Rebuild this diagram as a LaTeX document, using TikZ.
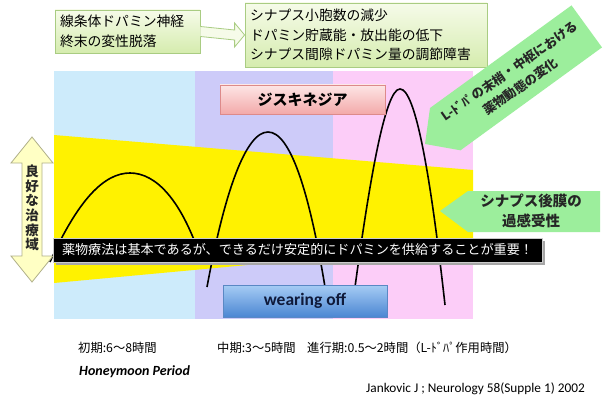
\documentclass[tikz,border=0pt]{standalone}
\usepackage{fontspec}
\setmainfont{Carlito}
\newfontfamily\jp{Noto Sans CJK JP}
\usetikzlibrary{calc}
\definecolor{pblue}{HTML}{CDEBFB}
\definecolor{ppurple}{HTML}{CDCBF9}
\definecolor{ppink}{HTML}{FCCDF8}
\definecolor{gtop}{HTML}{F6FBE9}
\definecolor{gbot}{HTML}{D5ECAE}
\definecolor{gline}{HTML}{A9CC82}
\definecolor{callg}{HTML}{9CEE9C}
\definecolor{pktop}{HTML}{FDE6E6}
\definecolor{pkbot}{HTML}{F3A9A9}
\definecolor{pkline}{HTML}{DD8A8A}
\definecolor{bltop}{HTML}{A6CCF4}
\definecolor{blbot}{HTML}{4B86D3}
\definecolor{blline}{HTML}{5A88C4}
\definecolor{ytxt}{HTML}{FFFFC4}
\definecolor{yline}{HTML}{B0B08A}
\definecolor{navy}{HTML}{0F1A3A}
\tikzset{
  greenbox/.style={draw=gline, line width=0.8pt, top color=gtop, bottom color=gbot, inner sep=0pt, align=left, font=\jp\fontsize{13.8}{19.5}\selectfont},
  pinkbox/.style={draw=pkline, line width=0.8pt, top color=pktop, bottom color=pkbot, inner sep=0pt, font=\jp\bfseries\fontsize{15}{18}\selectfont},
  bluebox/.style={draw=blline, line width=0.8pt, top color=bltop, bottom color=blbot, inner sep=0pt, font=\bfseries\fontsize{17.5}{20}\selectfont, text=navy},
  bell/.style={line width=1.6pt, black},
  calltxt/.style={font=\jp\bfseries\fontsize{13.5}{17}\selectfont, text=black!85, align=center, inner sep=0pt},
  bottxt/.style={font=\jp\fontsize{12.3}{14}\selectfont, anchor=west, inner sep=0pt},
}
\begin{document}
\begin{tikzpicture}[x=1pt,y=-1pt]
\useasboundingbox[fill=white] (0,0) rectangle (604,401);
% panels
\fill[pblue] (54,71) rectangle (195,319);
\fill[ppurple] (195,71) rectangle (333,319);
\fill[ppink] (333,71) rectangle (473,319);
% yellow wedge
\fill[yellow] (54,135) -- (473,170) -- (473,244) -- (54,283) -- cycle;
% bells
\draw[bell] (50,262) .. controls (78,200) and (104,173) .. (130,173) .. controls (156,173) and (182,200) .. (202,262);
\draw[bell] (207,287) .. controls (225,190) and (246,132) .. (268,132) .. controls (290,132) and (309,190) .. (325,287);
\draw[bell] (355,287) .. controls (371,170) and (386,89) .. (400,89) .. controls (415,89) and (430,170) .. (445,305);
% top boxes
\node[greenbox, minimum width=145, minimum height=43, text width=135] (b1) at (127.5,31.5) {線条体ドパミン神経\\終末の変性脱落};
\node[greenbox, minimum width=242, minimum height=64, text width=232] (b2) at (366,35) {シナプス小胞数の減少\\ドパミン貯蔵能・放出能の低下\\シナプス間隙ドパミン量の調節障害};
\fill[gtop, draw=gline, line width=0.8pt] ($(b1.east)+(0,-5)$) -- ($(b2.west)+(-10,-5)$) -- ($(b2.west)+(-10,-12)$) -- (b2.west) -- ($(b2.west)+(-10,12)$) -- ($(b2.west)+(-10,5)$) -- ($(b1.east)+(0,5)$);
% dyskinesia & wearing off
\node[pinkbox, minimum width=165, minimum height=29] (dys) at (302.5,99.5) {ジスキネジア};
\node[bluebox, minimum width=164, minimum height=32] (wo) at (305,301) {wearing off};
% left double arrow
\coordinate (ltop) at (32,137);
\coordinate (lbot) at (32,282);
\fill[ytxt, draw=yline, line width=0.8pt] (ltop) -- (53,163) -- (42,163) -- (42,256) -- (53,256) -- (lbot) -- (11,256) -- (22,256) -- (22,163) -- (11,163) -- cycle;
\node[font=\jp\bfseries\fontsize{13.5}{14.6}\selectfont, align=center, inner sep=0pt, text=black!85] (ltxt) at (32,208) {良\\好\\な\\治\\療\\域};
% black bar
\fill[black!35] (56,241) rectangle (545,265);
\node[fill=black, draw=black!20, line width=0.6pt, minimum width=489, minimum height=24, inner sep=0pt, text=white, font=\jp\fontsize{13.1}{15}\selectfont] (bar) at (297.5,250) {薬物療法は基本であるが、できるだけ安定的にドパミンを供給することが重要！};
% right callout
\coordinate (rtip) at (440,211);
\fill[callg] (rtip) -- (468,191) -- (600,191) -- (600,232) -- (468,232) -- cycle;
\node[calltxt, font=\jp\bfseries\fontsize{14.5}{20}\selectfont] (rtxt) at (531,211) {シナプス後膜の\\過感受性};
% angled callout
\coordinate (atip) at (425,144);
\fill[callg] (atip) -- (430,108) -- (571.5,5.4) -- (602,47.4) -- (460.5,150.3) -- cycle;
\node[calltxt, rotate=35, font=\jp\bfseries\fontsize{12.6}{19}\selectfont] (atxt) at (515,79) {L-ﾄﾞﾊﾟの末梢・中枢における\\薬物動態の変化};
% bottom texts
\node[bottxt] (t1) at (78,348) {初期:6～8時間};
\node[bottxt] (t2) at (217,348) {中期:3～5時間};
\node[bottxt] (t3) at (307,348) {進行期:0.5～2時間（L-ﾄﾞﾊﾟ作用時間）};
\node[anchor=west, inner sep=0pt, font=\bfseries\itshape\fontsize{14}{16}\selectfont] (hm) at (79,372) {Honeymoon Period};
\node[anchor=west, inner sep=0pt, font=\fontsize{13.3}{15}\selectfont] (ref) at (366,389) {Jankovic J ; Neurology 58(Supple 1) 2002};
\end{tikzpicture}
\end{document}
